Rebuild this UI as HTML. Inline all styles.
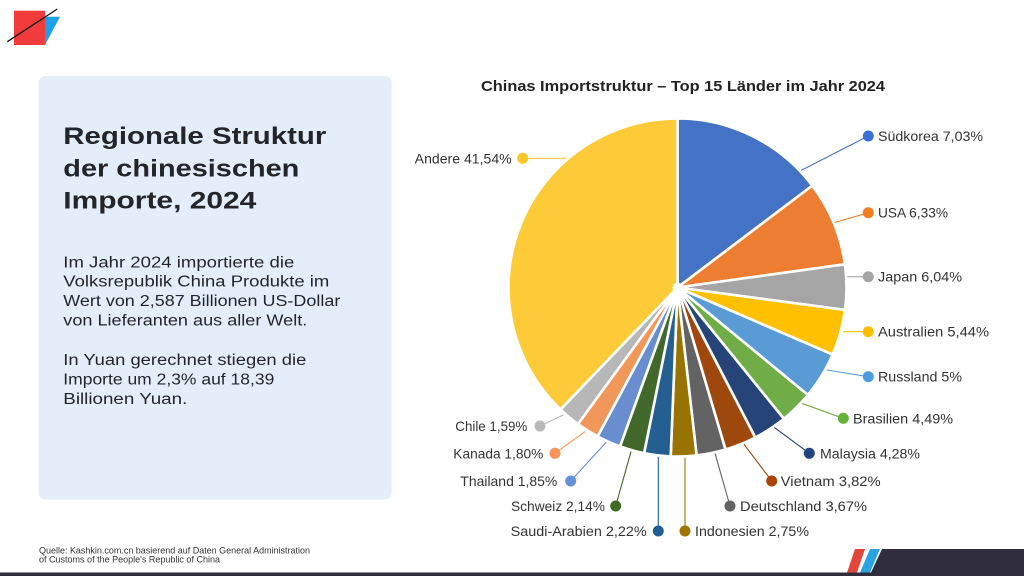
<!DOCTYPE html>
<html><head><meta charset="utf-8"><style>
html,body{margin:0;padding:0;background:#fff;width:1024px;height:576px;overflow:hidden}
svg{display:block}
text{font-family:"Liberation Sans",Arial,sans-serif}
</style></head><body>
<svg width="1024" height="576" viewBox="0 0 1024 576" xmlns="http://www.w3.org/2000/svg">
<rect width="1024" height="576" fill="#fff"/>
<!-- logo -->
<polygon points="40,16.7 60,16.7 45,45 40,45" fill="#1ea0e6"/>
<rect x="14" y="10.7" width="31" height="34.3" fill="#f23b3b"/>
<line x1="7.3" y1="41.7" x2="57.3" y2="9" stroke="#111" stroke-width="1.3"/>

<!-- left panel -->
<rect x="38.5" y="76" width="353.2" height="423.5" rx="7" fill="#e4eefa"/>
<g fill="#23252a" font-weight="bold" font-size="24">
<text x="63.3" y="144" textLength="263" lengthAdjust="spacingAndGlyphs">Regionale Struktur</text>
<text x="63.3" y="176.5" textLength="236" lengthAdjust="spacingAndGlyphs">der chinesischen</text>
<text x="63.3" y="208.5" textLength="193" lengthAdjust="spacingAndGlyphs">Importe, 2024</text>
</g>
<g fill="#23252a" font-size="15.5">
<text x="63.3" y="267.3" textLength="231" lengthAdjust="spacingAndGlyphs">Im Jahr 2024 importierte die</text>
<text x="63.3" y="286.7" textLength="266" lengthAdjust="spacingAndGlyphs">Volksrepublik China Produkte im</text>
<text x="63.3" y="306" textLength="277" lengthAdjust="spacingAndGlyphs">Wert von 2,587 Billionen US-Dollar</text>
<text x="63.3" y="325.3" textLength="244" lengthAdjust="spacingAndGlyphs">von Lieferanten aus aller Welt.</text>
<text x="63.3" y="365" textLength="243" lengthAdjust="spacingAndGlyphs">In Yuan gerechnet stiegen die</text>
<text x="63.3" y="384.3" textLength="211" lengthAdjust="spacingAndGlyphs">Importe um 2,3% auf 18,39</text>
<text x="63.3" y="404" textLength="124" lengthAdjust="spacingAndGlyphs">Billionen Yuan.</text>
</g>
<g fill="#333" font-size="9">
<text x="39" y="553.5" textLength="271" lengthAdjust="spacingAndGlyphs">Quelle: Kashkin.com.cn basierend auf Daten General Administration</text>
<text x="39" y="562.5" textLength="181" lengthAdjust="spacingAndGlyphs">of Customs of the People's Republic of China</text>
</g>

<!-- chart title -->
<text x="481" y="91" font-size="15" font-weight="bold" fill="#222" textLength="404" lengthAdjust="spacingAndGlyphs">Chinas Importstruktur – Top 15 Länder im Jahr 2024</text>

<!-- leader lines -->
<g stroke-width="1.1" fill="none">
<line x1="522.7" y1="158.3" x2="568" y2="158.3" stroke="#ffcc33"/>
<line x1="868.3" y1="136" x2="800" y2="171" stroke="#4472c4"/>
<line x1="868.3" y1="212.7" x2="833" y2="223" stroke="#ed7d31"/>
<line x1="868.3" y1="276.7" x2="846" y2="276.7" stroke="#a5a5a5"/>
<line x1="868.3" y1="331.7" x2="843" y2="331.7" stroke="#ffc000"/>
<line x1="868.3" y1="376.7" x2="826.7" y2="370" stroke="#5b9bd5"/>
<line x1="843.3" y1="418.3" x2="801.7" y2="403.3" stroke="#70ad47"/>
<line x1="809.3" y1="453.3" x2="773.3" y2="426.7" stroke="#264478"/>
<line x1="771.7" y1="481" x2="743.3" y2="443.3" stroke="#9e480e"/>
<line x1="730" y1="506" x2="715" y2="453.3" stroke="#636363"/>
<line x1="685" y1="531" x2="685" y2="456.7" stroke="#997300"/>
<line x1="658.3" y1="531" x2="658.3" y2="455" stroke="#255e91"/>
<line x1="615.7" y1="506" x2="631" y2="451.7" stroke="#43682b"/>
<line x1="570.7" y1="481" x2="606.7" y2="441.7" stroke="#698ed0"/>
<line x1="555" y1="453.3" x2="585" y2="431.7" stroke="#f1975a"/>
<line x1="540" y1="426" x2="563.3" y2="415" stroke="#b7b7b7"/>
</g>

<!-- pie -->
<g stroke="#fff" stroke-width="2.6" stroke-linejoin="round">
<path d="M677.5 287.5 L677.5 118.5 A169 169 0 0 1 812.3 185.6 Z" fill="#4472c4"/>
<path d="M677.5 287.5 L812.3 185.6 A169 169 0 0 1 844.9 264.3 Z" fill="#ed7d31"/>
<path d="M677.5 287.5 L844.9 264.3 A169 169 0 0 1 845.0 309.9 Z" fill="#a5a5a5"/>
<path d="M677.5 287.5 L845.0 309.9 A169 169 0 0 1 832.6 354.6 Z" fill="#ffc000"/>
<path d="M677.5 287.5 L832.6 354.6 A169 169 0 0 1 807.9 395.0 Z" fill="#5b9bd5"/>
<path d="M677.5 287.5 L807.9 395.0 A169 169 0 0 1 783.9 418.8 Z" fill="#70ad47"/>
<path d="M677.5 287.5 L783.9 418.8 A169 169 0 0 1 755.3 437.5 Z" fill="#264478"/>
<path d="M677.5 287.5 L755.3 437.5 A169 169 0 0 1 725.5 449.5 Z" fill="#9e480e"/>
<path d="M677.5 287.5 L725.5 449.5 A169 169 0 0 1 696.6 455.4 Z" fill="#636363"/>
<path d="M677.5 287.5 L696.6 455.4 A169 169 0 0 1 670.7 456.4 Z" fill="#997300"/>
<path d="M677.5 287.5 L670.7 456.4 A169 169 0 0 1 644.1 453.2 Z" fill="#255e91"/>
<path d="M677.5 287.5 L644.1 453.2 A169 169 0 0 1 620.0 446.4 Z" fill="#43682b"/>
<path d="M677.5 287.5 L620.0 446.4 A169 169 0 0 1 597.6 436.4 Z" fill="#698ed0"/>
<path d="M677.5 287.5 L597.6 436.4 A169 169 0 0 1 577.9 424.1 Z" fill="#f1975a"/>
<path d="M677.5 287.5 L577.9 424.1 A169 169 0 0 1 560.5 409.5 Z" fill="#b7b7b7"/>
<path d="M677.5 287.5 L560.5 409.5 A169 169 0 0 1 677.5 118.5 Z" fill="#fdcb38"/>
</g>
<circle cx="677.5" cy="287.5" r="5" fill="#fff"/>

<!-- dots -->
<g>
<circle cx="522.7" cy="158.3" r="5.5" fill="#fdc727"/>
<circle cx="868.3" cy="136" r="5.5" fill="#3b6fd0"/>
<circle cx="868.3" cy="212.7" r="5.5" fill="#f57c1f"/>
<circle cx="868.3" cy="276.7" r="5.5" fill="#a5a5a5"/>
<circle cx="868.3" cy="331.7" r="5.5" fill="#ffbf00"/>
<circle cx="868.3" cy="376.7" r="5.5" fill="#4d9ae0"/>
<circle cx="843.3" cy="418.3" r="5.5" fill="#64b23a"/>
<circle cx="809.3" cy="453.3" r="5.5" fill="#224480"/>
<circle cx="771.7" cy="481" r="5.5" fill="#a8440a"/>
<circle cx="730" cy="506" r="5.5" fill="#636363"/>
<circle cx="685" cy="531" r="5.5" fill="#a07400"/>
<circle cx="658.3" cy="531" r="5.5" fill="#1f5f98"/>
<circle cx="615.7" cy="506" r="5.5" fill="#3f6a26"/>
<circle cx="570.7" cy="481" r="5.5" fill="#6590da"/>
<circle cx="555" cy="453.3" r="5.5" fill="#f7965a"/>
<circle cx="540" cy="426" r="5.5" fill="#b9b9b9"/>
</g>

<!-- labels -->
<g fill="#333" font-size="14">
<text x="511.7" y="163.3" text-anchor="end" textLength="97" lengthAdjust="spacingAndGlyphs">Andere 41,54%</text>
<text x="878" y="141" textLength="105" lengthAdjust="spacingAndGlyphs">Südkorea 7,03%</text>
<text x="878" y="217.7" textLength="70" lengthAdjust="spacingAndGlyphs">USA 6,33%</text>
<text x="878" y="281.7" textLength="84" lengthAdjust="spacingAndGlyphs">Japan 6,04%</text>
<text x="878" y="336.7" textLength="111" lengthAdjust="spacingAndGlyphs">Australien 5,44%</text>
<text x="878" y="381.7" textLength="84" lengthAdjust="spacingAndGlyphs">Russland 5%</text>
<text x="853" y="423.3" textLength="100" lengthAdjust="spacingAndGlyphs">Brasilien 4,49%</text>
<text x="820" y="458.3" textLength="100" lengthAdjust="spacingAndGlyphs">Malaysia 4,28%</text>
<text x="780.7" y="486" textLength="100" lengthAdjust="spacingAndGlyphs">Vietnam 3,82%</text>
<text x="740" y="511" textLength="127" lengthAdjust="spacingAndGlyphs">Deutschland 3,67%</text>
<text x="695" y="536" textLength="114" lengthAdjust="spacingAndGlyphs">Indonesien 2,75%</text>
<text x="646.7" y="536" text-anchor="end" textLength="136" lengthAdjust="spacingAndGlyphs">Saudi-Arabien 2,22%</text>
<text x="605" y="511" text-anchor="end" textLength="94" lengthAdjust="spacingAndGlyphs">Schweiz 2,14%</text>
<text x="557.3" y="486" text-anchor="end" textLength="97" lengthAdjust="spacingAndGlyphs">Thailand 1,85%</text>
<text x="543.3" y="458.3" text-anchor="end" textLength="90" lengthAdjust="spacingAndGlyphs">Kanada 1,80%</text>
<text x="527.3" y="431" text-anchor="end" textLength="72" lengthAdjust="spacingAndGlyphs">Chile 1,59%</text>
</g>

<!-- bottom bar -->
<polygon points="882,549 1024,549 1024,576 0,576 0,572.5 871,572.5" fill="#302d3c"/>
<polygon points="855,549 865,549 857,572.5 847,572.5" fill="#e0473a"/>
<polygon points="870,549 880,549 870,572.5 860,572.5" fill="#2ba3e2"/>
</svg>
</body></html>
